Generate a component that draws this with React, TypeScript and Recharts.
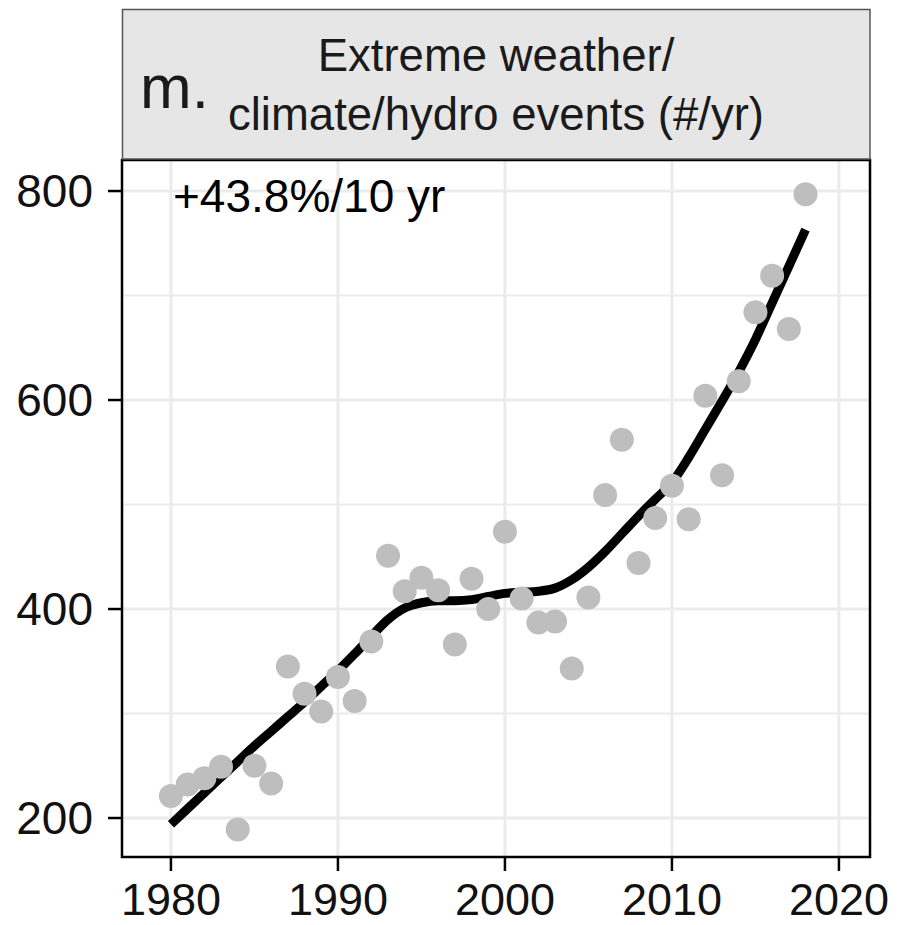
import React from 'react';
import {
  ComposedChart,
  Scatter,
  Line,
  XAxis,
  YAxis,
  CartesianGrid,
  ReferenceArea,
} from 'recharts';

const years = [
  1980, 1981, 1982, 1983, 1984, 1985, 1986, 1987, 1988, 1989,
  1990, 1991, 1992, 1993, 1994, 1995, 1996, 1997, 1998, 1999,
  2000, 2001, 2002, 2003, 2004, 2005, 2006, 2007, 2008, 2009,
  2010, 2011, 2012, 2013, 2014, 2015, 2016, 2017, 2018,
];

const events = [
  221, 232, 238, 249, 189, 250, 233, 345, 319, 302,
  335, 312, 369, 451, 417, 430, 418, 366, 429, 400,
  474, 410, 387, 388, 343, 411, 509, 562, 444, 487,
  518, 486, 604, 528, 618, 684, 719, 668, 797,
];

const fitted = [
  194, 209, 224, 239, 254, 269, 283, 297, 311, 326,
  341, 357, 374, 390, 401, 406, 408, 408, 409, 412,
  415, 416, 417, 420, 428, 440, 455, 472, 489, 505,
  521, 545, 572, 599, 627, 658, 693, 728, 763,
];

const xTicks = [1980, 1990, 2000, 2010, 2020];
const yTicks = [200, 400, 600, 800];
const yMinorTicks = [300, 500, 700];
const xDomain = [1977.07, 2021.86];
const yDomain = [162.7, 829.7];

const panelLabel = 'm.';
const stripLines = ['Extreme weather/', 'climate/hydro events (#/yr)'];
const annotation = '+43.8%/10 yr';

const chartData = years.map((year, i) => ({
  year,
  events: events[i],
  fit: fitted[i],
}));

const FONT = '"Liberation Sans", Arial, Helvetica, sans-serif';

const Dot = (props: any) => {
  const { cx, cy } = props;
  if (cx == null || cy == null) return null;
  return <circle cx={cx} cy={cy} r={12} fill="#bebebe" />;
};

export default function App() {
  return (
    <div style={{ position: 'absolute', left: 0, top: 0, width: 902, height: 925, background: '#fff' }}>
      <ComposedChart
        width={902}
        height={925}
        data={chartData}
        margin={{ top: 160, right: 32, bottom: 0, left: 0 }}
      >
        <CartesianGrid
          stroke="#ebebeb"
          strokeWidth={2}
          vertical={false}
          horizontalValues={yMinorTicks}
        />
        <CartesianGrid
          stroke="#ebebeb"
          strokeWidth={3}
          horizontalValues={yTicks}
          verticalValues={xTicks}
        />
        <XAxis
          dataKey="year"
          type="number"
          domain={xDomain}
          allowDataOverflow
          ticks={xTicks}
          height={68}
          axisLine={false}
          tickLine={{ stroke: '#000', strokeWidth: 2.5 }}
          tickSize={14}
          tickMargin={12}
          tick={{ fontSize: 45, fill: '#111', fontFamily: FONT }}
        />
        <YAxis
          type="number"
          domain={yDomain}
          allowDataOverflow
          ticks={yTicks}
          width={122}
          axisLine={false}
          tickLine={{ stroke: '#000', strokeWidth: 2.5 }}
          tickSize={14}
          tickMargin={15}
          tick={{ fontSize: 46, fill: '#111', fontFamily: FONT }}
        />
        <Scatter dataKey="events" shape={Dot} isAnimationActive={false} />
        <Line
          dataKey="fit"
          type="monotone"
          stroke="#000"
          strokeWidth={9}
          dot={false}
          activeDot={false}
          isAnimationActive={false}
        />
        <ReferenceArea
          x1={xDomain[0]}
          x2={xDomain[1]}
          y1={yDomain[0]}
          y2={yDomain[1]}
          fill="none"
          fillOpacity={0}
          stroke="#000"
          strokeWidth={2.5}
          ifOverflow="visible"
        />
      </ComposedChart>
      <svg
        width={902}
        height={925}
        style={{ position: 'absolute', left: 0, top: 0, pointerEvents: 'none' }}
      >
        <rect x={122.5} y={9.5} width={747.5} height={149.5} fill="#e6e6e6" stroke="#555" strokeWidth={1.5} />
        <text x={140} y={108} fontSize={62} fontFamily={FONT} fill="#1a1a1a">{panelLabel}</text>
        <text x={496} y={71} fontSize={45.5} fontFamily={FONT} fill="#1a1a1a" textAnchor="middle">{stripLines[0]}</text>
        <text x={496} y={130} fontSize={45.5} fontFamily={FONT} fill="#1a1a1a" textAnchor="middle">{stripLines[1]}</text>
        <text x={173} y={212} fontSize={46} fontFamily={FONT} fill="#000">{annotation}</text>
      </svg>
    </div>
  );
}
